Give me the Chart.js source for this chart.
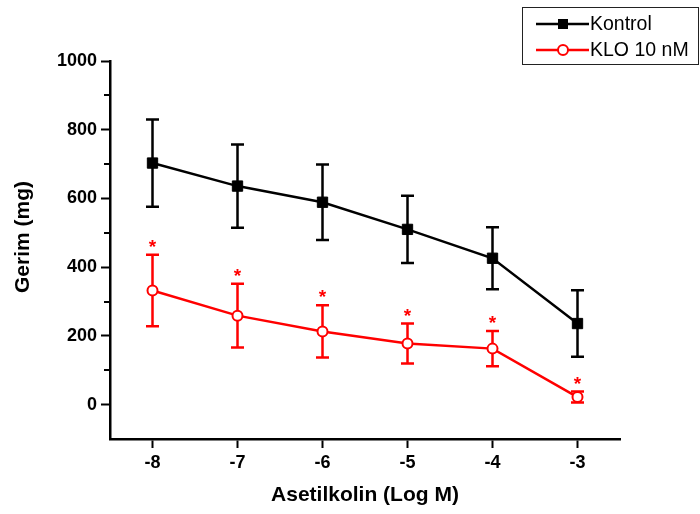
<!DOCTYPE html>
<html>
<head>
<meta charset="utf-8">
<script src="https://cdn.jsdelivr.net/npm/chart.js@4/dist/chart.umd.min.js"></script>
<style>
  html, body { margin: 0; padding: 0; background: #fff; }
  #wrap { width: 700px; height: 514px; }
</style>
</head>
<body>
<div id="wrap"><canvas id="c" width="700" height="514"></canvas></div>
<script>
const categories = [-8, -7, -6, -5, -4, -3];
const kontrolMean = [703, 636, 589, 510, 426, 236];
const kontrolErr = [127, 121, 110, 98, 90, 97];
const kloMean = [332, 259, 213, 178, 163, 22];
const kloErr = [104, 93, 76, 58, 51, 16];
const yTicks = [0, 200, 400, 600, 800, 1000];
const yMinorTicks = [100, 300, 500, 700, 900];
const seriesNames = ["Kontrol", "KLO 10 nM"];

const FONT = "Arial, 'Liberation Sans', sans-serif";
const RED = "#ff0000";

const errors = [kontrolErr, kloErr];
const means = [kontrolMean, kloMean];

// error bars, asterisks, minor ticks, y title and legend
const extras = {
  id: "extras",
  beforeDatasetsDraw(chart) {
    const ctx = chart.ctx;
    const y = chart.scales.y;
    chart.data.datasets.forEach((ds, di) => {
      const meta = chart.getDatasetMeta(di);
      ctx.save();
      ctx.strokeStyle = ds.borderColor;
      ctx.lineWidth = 2.5;
      meta.data.forEach((pt, i) => {
        const top = y.getPixelForValue(means[di][i] + errors[di][i]);
        const bot = y.getPixelForValue(means[di][i] - errors[di][i]);
        ctx.beginPath();
        ctx.moveTo(pt.x, top); ctx.lineTo(pt.x, bot);
        ctx.moveTo(pt.x - 6.5, top); ctx.lineTo(pt.x + 6.5, top);
        ctx.moveTo(pt.x - 6.5, bot); ctx.lineTo(pt.x + 6.5, bot);
        ctx.stroke();
        if (di === 1) {
          ctx.fillStyle = RED;
          ctx.font = "bold 19px " + FONT;
          ctx.textAlign = "center";
          ctx.textBaseline = "alphabetic";
          ctx.fillText("*", pt.x, top - 2);
        }
      });
      ctx.restore();
    });
  },
  afterDraw(chart) {
    const ctx = chart.ctx;
    const y = chart.scales.y;
    ctx.save();
    ctx.strokeStyle = "#000";
    ctx.lineWidth = 2;
    yMinorTicks.forEach(v => {
      const py = Math.round(y.getPixelForValue(v));
      ctx.beginPath();
      ctx.moveTo(y.right - 6, py);
      ctx.lineTo(y.right, py);
      ctx.stroke();
    });

    // y axis title
    ctx.save();
    ctx.translate(23, 237);
    ctx.rotate(-Math.PI / 2);
    ctx.fillStyle = "#000";
    ctx.font = "bold 21px " + FONT;
    ctx.textAlign = "center";
    ctx.textBaseline = "middle";
    ctx.fillText("Gerim (mg)", 0, 0);
    ctx.restore();

    // legend
    ctx.lineWidth = 1;
    ctx.strokeStyle = "#222";
    ctx.strokeRect(522.5, 7.5, 176, 57);
    const rows = [24, 50];
    chart.data.datasets.forEach((ds, di) => {
      const ly = rows[di];
      ctx.strokeStyle = ds.borderColor;
      ctx.lineWidth = 2.5;
      ctx.beginPath();
      ctx.moveTo(536, ly); ctx.lineTo(589, ly);
      ctx.stroke();
      if (di === 0) {
        ctx.fillStyle = "#000";
        ctx.fillRect(558, ly - 5, 10, 10);
      } else {
        ctx.beginPath();
        ctx.arc(563, ly, 5, 0, Math.PI * 2);
        ctx.fillStyle = "#fff";
        ctx.fill();
        ctx.lineWidth = 2;
        ctx.stroke();
      }
      ctx.fillStyle = "#000";
      ctx.font = "19.5px " + FONT;
      ctx.textAlign = "left";
      ctx.textBaseline = "middle";
      ctx.fillText(seriesNames[di], 590, ly + 1);
    });
    ctx.restore();
  }
};

new Chart(document.getElementById("c"), {
  type: "line",
  data: {
    datasets: [
      {
        label: seriesNames[0],
        data: categories.map((x, i) => ({ x: x, y: kontrolMean[i] })),
        borderColor: "#000",
        backgroundColor: "#000",
        borderWidth: 2.5,
        pointStyle: "rect",
        pointRadius: 7.3,
        pointBorderWidth: 1,
        pointBackgroundColor: "#000",
        pointBorderColor: "#000",
        tension: 0
      },
      {
        label: seriesNames[1],
        data: categories.map((x, i) => ({ x: x, y: kloMean[i] })),
        borderColor: RED,
        backgroundColor: "#fff",
        borderWidth: 2.5,
        pointStyle: "circle",
        pointRadius: 5,
        pointBorderWidth: 2,
        pointBackgroundColor: "#fff",
        pointBorderColor: RED,
        tension: 0
      }
    ]
  },
  options: {
    responsive: false,
    animation: false,
    layout: { padding: { left: 0, top: 61, right: 80, bottom: 0 } },
    plugins: {
      legend: { display: false },
      tooltip: { enabled: false }
    },
    scales: {
      x: {
        type: "linear",
        min: -8.5,
        max: -2.5,
        afterBuildTicks: s => { s.ticks = categories.map(v => ({ value: v })); },
        afterFit: s => { s.height = 75; },
        border: { color: "#000", width: 2.5 },
        grid: { drawOnChartArea: false, drawTicks: true, tickLength: 9, tickWidth: 2, tickColor: "#000" },
        ticks: {
          color: "#000",
          padding: 4,
          font: { family: FONT, size: 18, weight: "bold" },
          callback: v => String(v)
        },
        title: {
          display: true,
          text: "Asetilkolin (Log M)",
          color: "#000",
          font: { family: FONT, size: 21, weight: "bold" },
          padding: { top: 0, bottom: 6 }
        }
      },
      y: {
        min: -100,
        max: 1000,
        afterBuildTicks: s => { s.ticks = yTicks.map(v => ({ value: v })); },
        afterFit: s => { s.width = 110; },
        border: { color: "#000", width: 2.5 },
        grid: { drawOnChartArea: false, drawTicks: true, tickLength: 9, tickWidth: 2, tickColor: "#000" },
        ticks: {
          color: "#000",
          padding: 4,
          font: { family: FONT, size: 18, weight: "bold" },
          callback: v => String(v)
        }
      }
    }
  },
  plugins: [extras]
});
</script>
</body>
</html>
